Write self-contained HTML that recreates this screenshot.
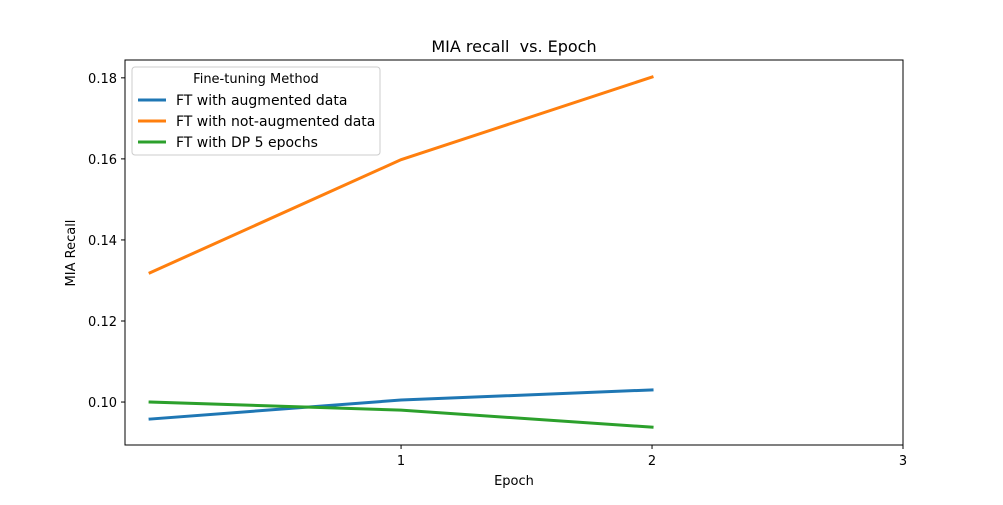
<!DOCTYPE html>
<html><head><meta charset="utf-8"><style>
body{margin:0;background:#fff;font-family:"Liberation Sans","DejaVu Sans",sans-serif;}
svg text{font-family:"DejaVu Sans","Liberation Sans",sans-serif;}
</style></head><body>
<svg id="chart" width="1003" height="500" xmlns="http://www.w3.org/2000/svg">
<rect width="1003" height="500" fill="#fff"/>
<g id="plot"></g>
</svg>
<script>
const epochs = [0, 1, 2];
const seriesNames = ["FT with augmented data", "FT with not-augmented data", "FT with DP 5 epochs"];
const augmented = [0.0958, 0.1005, 0.1030];
const notAugmented = [0.1319, 0.1598, 0.1802];
const dp5 = [0.1000, 0.0980, 0.0938];
const xTicks = [1, 2, 3];
const yTicks = [0.10, 0.12, 0.14, 0.16, 0.18];

const L=125,R=903,T=60,B=445;
const xMin=-0.1,xMax=3,yMin=0.0894,yMax=0.1844;
const sx=v=>L+(v-xMin)/(xMax-xMin)*(R-L);
const sy=v=>B-(v-yMin)/(yMax-yMin)*(B-T);
const ns="http://www.w3.org/2000/svg";
const g=document.getElementById('plot');
function mk(tag,attrs,parent){const e=document.createElementNS(ns,tag);for(const k in attrs)e.setAttribute(k,attrs[k]);(parent||g).appendChild(e);return e;}

const colors=["#1f77b4","#ff7f0e","#2ca02c"];
const data=[augmented,notAugmented,dp5];
const names=["line-augmented","line-not-augmented","line-dp-5-epochs"];
data.forEach((s,i)=>{
  const p=mk('polyline',{points:s.map((v,j)=>sx(epochs[j])+','+sy(v)).join(' '),fill:'none',stroke:colors[i],'stroke-width':3,'stroke-linecap':'square'});
  
  
});

const frame=mk('rect',{x:L,y:T,width:R-L,height:B-T,fill:'none',stroke:'#000','stroke-width':1});



xTicks.forEach(t=>{
  const x=sx(t);
  mk('line',{x1:x,x2:x,y1:B,y2:B+4,stroke:'#000'});
  const tx=mk('text',{x:x,y:B+20,'text-anchor':'middle','font-size':13});
  tx.textContent=t;
  
  
});
yTicks.forEach(t=>{
  const y=sy(t);
  mk('line',{x1:L-4,x2:L,y1:y,y2:y,stroke:'#000'});
  const tx=mk('text',{x:L-8,y:y+5,'text-anchor':'end','font-size':13});
  tx.textContent=t.toFixed(2);
  
  
});

const title=mk('text',{x:(L+R)/2,y:52,'text-anchor':'middle','font-size':16,style:'white-space:pre'});
title.textContent='MIA recall  vs. Epoch';


const xl=mk('text',{x:(L+R)/2,y:485,'text-anchor':'middle','font-size':13});
xl.textContent='Epoch';


const yl=mk('text',{x:0,y:0,'text-anchor':'middle','font-size':13,transform:'translate(75,253) rotate(-90)'});
yl.textContent='MIA Recall';



const lg=mk('g',{});


mk('rect',{x:132,y:67,width:248,height:88,rx:3,fill:'#fff','fill-opacity':0.8,stroke:'#ccc'},lg);
const lt=mk('text',{x:256,y:83,'text-anchor':'middle','font-size':13},lg);
lt.textContent='Fine-tuning Method';
seriesNames.forEach((n,i)=>{
  const y=100+i*21;
  mk('line',{x1:138,x2:166,y1:y,y2:y,stroke:colors[i],'stroke-width':3},lg);
  const t=mk('text',{x:176,y:y+5,'font-size':14},lg);
  t.textContent=n;
  
  
});
</script>
</body></html>
